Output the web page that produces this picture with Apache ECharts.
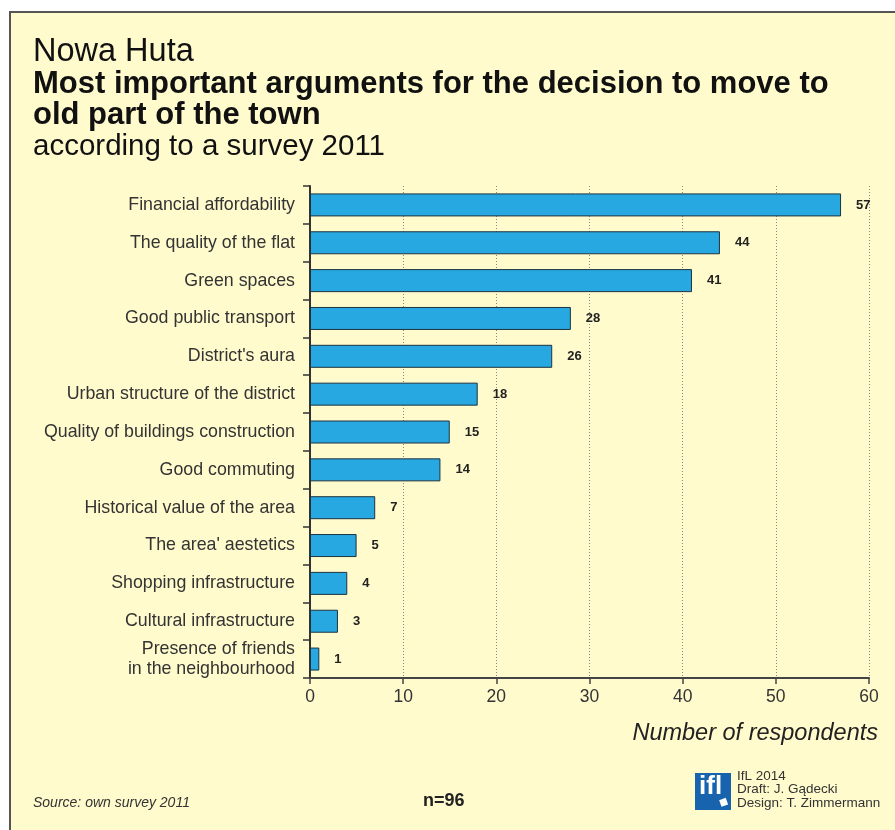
<!DOCTYPE html>
<html>
<head>
<meta charset="utf-8">
<script src="https://cdn.jsdelivr.net/npm/echarts@6/dist/echarts.min.js"></script>
<style>
  html, body { margin: 0; padding: 0; background: #fff; }
  #chart { width: 895px; height: 830px; }
</style>
</head>
<body>
<div id="chart"></div>
<script>
const categories = [
  'Financial affordability',
  'The quality of the flat',
  'Green spaces',
  'Good public transport',
  "District's aura",
  'Urban structure of the district',
  'Quality of buildings construction',
  'Good commuting',
  'Historical value of the area',
  "The area' aestetics",
  'Shopping infrastructure',
  'Cultural infrastructure',
  'Presence of friends\nin the neighbourhood'
]
const respondents = [57, 44, 41, 28, 26, 18, 15, 14, 7, 5, 4, 3, 1]

const font = '"Liberation Sans", Arial, Helvetica, sans-serif'
const chart = echarts.init(document.getElementById('chart'))

let option = {
  backgroundColor: '#fff',
  animation: false,
  textStyle: { fontFamily: font },
  grid: {
    left: 310,
    right: 26,
    top: 186,
    bottom: 152
  },
  xAxis: {
    type: 'value',
    min: 0,
    max: 60,
    interval: 10,
    name: 'Number of respondents',
    nameLocation: 'end',
    nameGap: 0,
    nameTextStyle: {
      fontFamily: font,
      fontStyle: 'italic',
      fontSize: 23.5,
      color: '#222',
      align: 'right',
      verticalAlign: 'top',
      padding: [44, -9, 0, 0]
    },
    axisLine: { show: true, lineStyle: { color: '#444', width: 2 } },
    axisTick: { show: true, length: 6, lineStyle: { color: '#444', width: 1.5 } },
    axisLabel: { color: '#333', fontSize: 17.5, margin: 10, fontFamily: font },
    splitLine: { show: true, lineStyle: { color: '#888', type: [1, 2], width: 1 } }
  },
  yAxis: {
    type: 'category',
    inverse: true,
    data: categories,
    axisLine: { show: true, lineStyle: { color: '#333', width: 2 } },
    axisTick: { show: true, length: 7, lineStyle: { color: '#333', width: 1.5 } },
    axisLabel: {
      color: '#333',
      fontSize: 17.8,
      margin: 15,
      lineHeight: 20,
      align: 'right',
      fontFamily: font
    },
    splitLine: { show: false }
  },
  series: [
    {
      type: 'bar',
      data: respondents,
      barWidth: 23,
      itemStyle: { color: '#27a8e0', borderColor: '#1d3340', borderWidth: 1 },
      label: {
        show: true,
        position: 'right',
        distance: 15,
        color: '#222',
        fontWeight: 'bold',
        fontSize: 13,
        fontFamily: font
      }
    }
  ],
  graphic: [
    {
      type: 'rect', z: -10,
      shape: { x: 10, y: 12, width: 900, height: 830 },
      style: { fill: '#fffbcd', stroke: '#555', lineWidth: 2 }
    },
    {
      type: 'text', left: 33, top: 36,
      style: { text: 'Nowa Huta', font: '32.5px ' + font, fill: '#111' }
    },
    {
      type: 'text', left: 33, top: 69,
      style: { text: 'Most important arguments for the decision to move to\nold part of the town', font: 'bold 31px ' + font, lineHeight: 31, fill: '#111' }
    },
    {
      type: 'text', left: 33, top: 132,
      style: { text: 'according to a survey 2011', font: '29.5px ' + font, fill: '#111' }
    },
    {
      type: 'text', left: 33, top: 796,
      style: { text: 'Source: own survey 2011', font: 'italic 14px ' + font, fill: '#333' }
    },
    {
      type: 'text', left: 423, top: 792,
      style: { text: 'n=96', font: 'bold 18px ' + font, fill: '#222' }
    },
    {
      type: 'rect',
      shape: { x: 695, y: 773, width: 36, height: 37 },
      style: { fill: '#1763ae' }
    },
    {
      type: 'text', left: 699, top: 774,
      style: { text: 'ifl', font: 'bold 26px ' + font, fill: '#fff' }
    },
    {
      type: 'rect', rotation: 0.35, originX: 723, originY: 802,
      shape: { x: 720, y: 799, width: 7, height: 7 },
      style: { fill: '#fff' }
    },
    {
      type: 'text', left: 737, top: 769,
      style: { text: 'IfL 2014\nDraft: J. Gądecki\nDesign: T. Zimmermann', font: '13.5px ' + font, lineHeight: 13.5, fill: '#333' }
    }
  ]
}
chart.setOption(option)
</script>
</body>
</html>
